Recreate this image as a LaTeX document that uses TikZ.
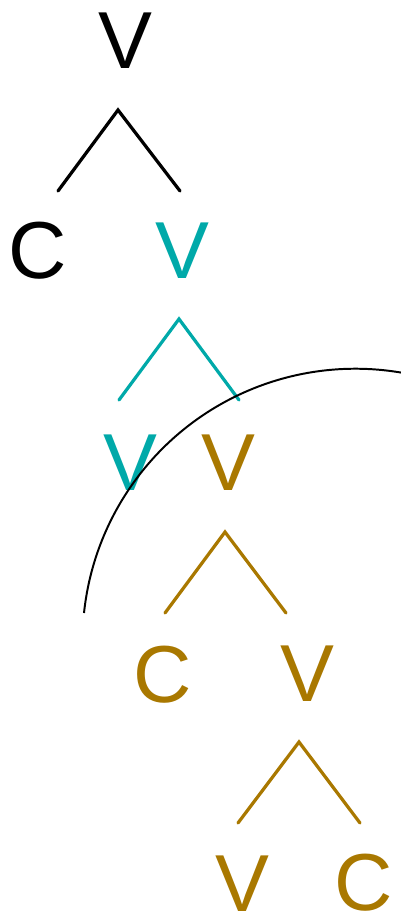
\documentclass[tikz,border=0pt]{standalone}
\usepackage{fontspec}
\setmainfont{Liberation Sans}
\usetikzlibrary{positioning}
\definecolor{sylteal}{HTML}{00A9A9}
\definecolor{sylgold}{HTML}{A97800}

\begin{document}
\begin{tikzpicture}[
x=0.25mm,y=-0.25mm,
seg/.style={inner sep=0pt,font=\fontsize{57.5}{60}\selectfont},
br/.style={line width=2.3pt,line cap=round,line join=miter},
ring/.style={line width=1.4pt}
]
\useasboundingbox (0,0) rectangle (400,916);
% letters
\node[seg]                (v0) at (125,41)  {V};
\node[seg]                (c1) at (38,251)  {C};
\node[seg,sylteal]        (v1) at (182,251) {V};
\node[seg,sylteal]        (v2) at (130,463) {V};
\node[seg,sylgold]        (v3) at (228,463) {V};
\node[seg,sylgold]        (c2) at (163,675) {C};
\node[seg,sylgold]        (v4) at (307,674) {V};
\node[seg,sylgold]        (v5) at (242,884) {V};
\node[seg,sylgold]        (c3) at (364,883) {C};
% branches
\foreach \n/\ax/\ay/\lx/\rx/\fy/\col in {
  b0/118/110/58/180/191/black,
  b1/179/319/119/239/400/sylteal,
  b2/225/532/165/286/613/sylgold,
  b3/299/742/238/360/823/sylgold}{
  \coordinate (\n) at (\ax,\ay);
  \coordinate (\n l) at (\lx,\fy);
  \coordinate (\n r) at (\rx,\fy);
  \draw[br,\col] (\n l) -- (\n) -- (\n r);
}
% arc
\coordinate (a0) at (84,613);
\draw[ring] (a0) arc[start angle=-174,end angle=-80,radius=272.8];
\end{tikzpicture}
\end{document}
